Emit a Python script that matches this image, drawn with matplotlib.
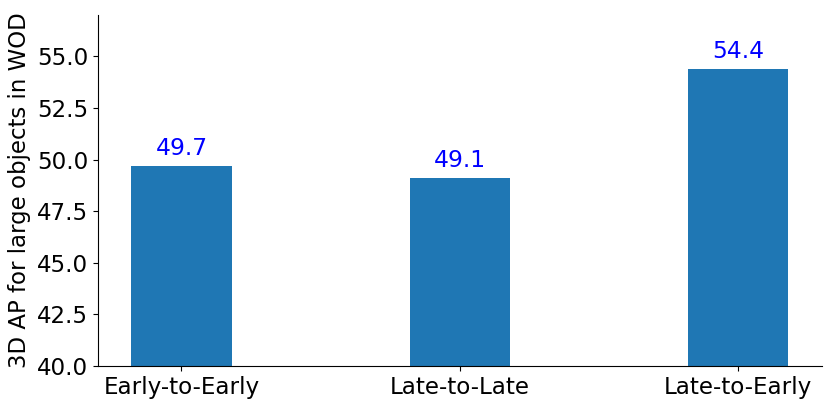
import numpy as np
import matplotlib
matplotlib.use("Agg")
import matplotlib.pyplot as plt

# fusion settings and AP values
settings = ['Early-to-Early', 'Late-to-Late', 'Late-to-Early']
ap_large = [49.7, 49.1, 54.4]

fig, ax = plt.subplots(figsize=(8.3, 4.08), dpi=100)
x = np.arange(len(settings))
bars = ax.bar(x, ap_large, width=0.36, color='#1f77b4')

for xi, v in zip(x, ap_large):
    ax.text(xi, v + 0.3, '%.1f' % v, ha='center', va='bottom', color='blue', fontsize=16.8)

ax.set_xticks(x)
ax.set_xticklabels(settings, fontsize=16.6)
ax.set_ylim(40, 57)
ax.set_xlim(-0.3, 2.3)
ax.set_yticks(np.arange(40, 55.1, 2.5))
ax.tick_params(axis='y', labelsize=16.6)
ax.set_ylabel('3D AP for large objects in WOD', fontsize=16.5)
ax.spines['top'].set_visible(False)
ax.spines['right'].set_visible(False)

plt.subplots_adjust(left=0.118, right=0.99, top=0.963, bottom=0.103)
plt.savefig('out.png')
